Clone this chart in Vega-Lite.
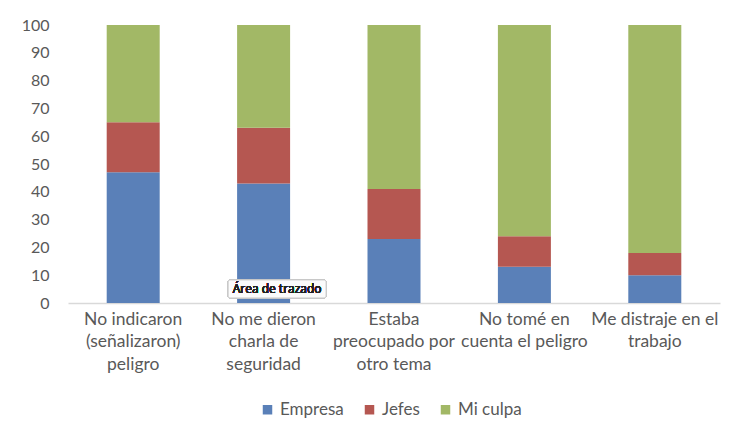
{
  "$schema": "https://vega.github.io/schema/vega-lite/v6.json",
  "width": 652,
  "height": 278,
  "autosize": {"type": "none"},
  "padding": {"left": 68, "top": 25, "right": 13, "bottom": 131},
  "background": "white",
  "config": {
    "view": {"stroke": null},
    "font": "Lato",
    "axisX": {
      "title": null,
      "labelAngle": 0,
      "domainColor": "#d9d9d9",
      "domainWidth": 1.5,
      "ticks": false,
      "labelFontSize": 17.5,
      "labelColor": "#595959",
      "labelPadding": 16,
      "labelLineHeight": 22.5,
      "labelBaseline": "middle",
      "labelLimit": 220,
      "labelOverlap": false
    },
    "axisY": {
      "title": null,
      "labelOverlap": false,
      "domain": false,
      "ticks": false,
      "grid": false,
      "labelFontSize": 16,
      "labelColor": "#595959",
      "labelPadding": 19
    }
  },
  "data": {
    "values": [
      {"causa": "No indicaron (señalizaron) peligro", "serie": "Empresa", "valor": 47},
      {"causa": "No indicaron (señalizaron) peligro", "serie": "Jefes", "valor": 18},
      {"causa": "No indicaron (señalizaron) peligro", "serie": "Mi culpa", "valor": 35},
      {"causa": "No me dieron charla de seguridad", "serie": "Empresa", "valor": 43},
      {"causa": "No me dieron charla de seguridad", "serie": "Jefes", "valor": 20},
      {"causa": "No me dieron charla de seguridad", "serie": "Mi culpa", "valor": 37},
      {"causa": "Estaba preocupado por otro tema", "serie": "Empresa", "valor": 23},
      {"causa": "Estaba preocupado por otro tema", "serie": "Jefes", "valor": 18},
      {"causa": "Estaba preocupado por otro tema", "serie": "Mi culpa", "valor": 59},
      {"causa": "No tomé en cuenta el peligro", "serie": "Empresa", "valor": 13},
      {"causa": "No tomé en cuenta el peligro", "serie": "Jefes", "valor": 11},
      {"causa": "No tomé en cuenta el peligro", "serie": "Mi culpa", "valor": 76},
      {"causa": "Me distraje en el trabajo", "serie": "Empresa", "valor": 10},
      {"causa": "Me distraje en el trabajo", "serie": "Jefes", "valor": 8},
      {"causa": "Me distraje en el trabajo", "serie": "Mi culpa", "valor": 82}
    ]
  },
  "layer": [
    {
      "mark": {"type": "bar", "width": 53},
      "encoding": {
        "x": {
          "field": "causa",
          "type": "nominal",
          "sort": null,
          "scale": {"paddingInner": 0.59, "paddingOuter": 0.295},
          "axis": {
            "labelExpr": "datum.value == 'No indicaron (señalizaron) peligro' ? ['No indicaron', '(señalizaron)', 'peligro'] : datum.value == 'No me dieron charla de seguridad' ? ['No me dieron', 'charla de', 'seguridad'] : datum.value == 'Estaba preocupado por otro tema' ? ['Estaba', 'preocupado por', 'otro tema'] : datum.value == 'No tomé en cuenta el peligro' ? ['No tomé en', 'cuenta el peligro'] : ['Me distraje en el', 'trabajo']"
          }
        },
        "y": {
          "field": "valor",
          "type": "quantitative",
          "stack": "zero",
          "scale": {"domain": [0, 100], "nice": false},
          "axis": {"values": [0, 10, 20, 30, 40, 50, 60, 70, 80, 90, 100]}
        },
        "color": {
          "field": "serie",
          "type": "nominal",
          "scale": {
            "domain": ["Empresa", "Jefes", "Mi culpa"],
            "range": ["#5a80b8", "#b55751", "#a2b866"]
          },
          "legend": {
            "title": null,
            "orient": "none",
            "direction": "horizontal",
            "legendX": 191,
            "legendY": 376,
            "symbolType": "square",
            "symbolSize": 90,
            "symbolStrokeWidth": 0,
            "labelFontSize": 17,
            "labelColor": "#595959",
            "labelOffset": 4,
            "columnPadding": 17
          }
        },
        "order": {"field": "serie", "sort": "ascending"}
      }
    },
    {
      "mark": {"type": "bar", "width": 98, "xOffset": 13.5, "fill": "#fbfbfb", "stroke": "#c8c8c8", "strokeWidth": 1, "cornerRadius": 2},
      "encoding": {
        "x": {"datum": "No me dieron charla de seguridad", "type": "nominal",
          "axis": {
            "labelExpr": "datum.value == 'No indicaron (señalizaron) peligro' ? ['No indicaron', '(señalizaron)', 'peligro'] : datum.value == 'No me dieron charla de seguridad' ? ['No me dieron', 'charla de', 'seguridad'] : datum.value == 'Estaba preocupado por otro tema' ? ['Estaba', 'preocupado por', 'otro tema'] : datum.value == 'No tomé en cuenta el peligro' ? ['No tomé en', 'cuenta el peligro'] : ['Me distraje en el', 'trabajo']"
          }},
        "y": {"datum": 1.8, "type": "quantitative", "axis": {"values": [0, 10, 20, 30, 40, 50, 60, 70, 80, 90, 100]}},
        "y2": {"datum": 8.3}
      }
    },
    {
      "mark": {"type": "text", "xOffset": 13.5, "font": "Open Sans", "fontSize": 12, "fontWeight": "normal", "fill": "#222222", "strokeWidth": 0, "baseline": "middle", "align": "center"},
      "encoding": {
        "x": {"datum": "No me dieron charla de seguridad", "type": "nominal",
          "axis": {
            "labelExpr": "datum.value == 'No indicaron (señalizaron) peligro' ? ['No indicaron', '(señalizaron)', 'peligro'] : datum.value == 'No me dieron charla de seguridad' ? ['No me dieron', 'charla de', 'seguridad'] : datum.value == 'Estaba preocupado por otro tema' ? ['Estaba', 'preocupado por', 'otro tema'] : datum.value == 'No tomé en cuenta el peligro' ? ['No tomé en', 'cuenta el peligro'] : ['Me distraje en el', 'trabajo']"
          }},
        "y": {"datum": 5.05, "type": "quantitative", "axis": {"values": [0, 10, 20, 30, 40, 50, 60, 70, 80, 90, 100]}},
        "text": {"value": "Área de trazado"}
      }
    }
  ]
}
